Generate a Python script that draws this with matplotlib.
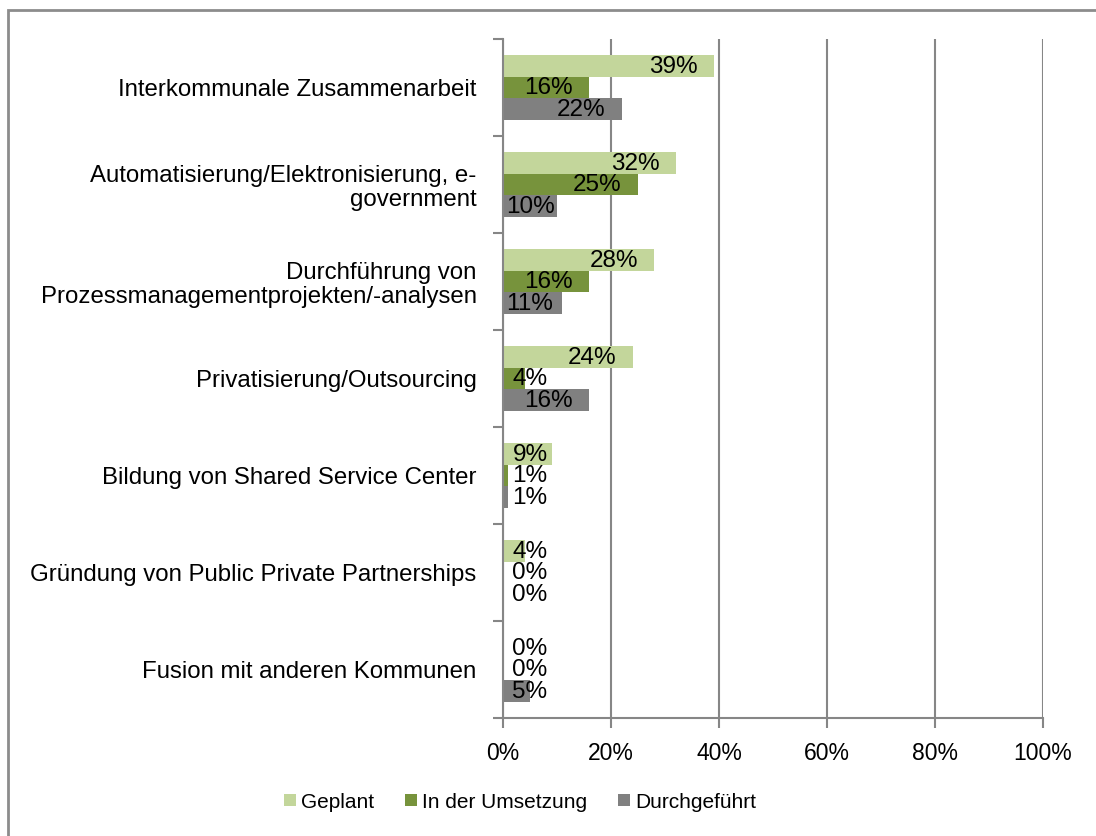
import matplotlib
matplotlib.use("Agg")
import matplotlib.pyplot as plt
import numpy as np
from matplotlib.patches import Rectangle

plt.rcParams['font.family'] = ['Liberation Sans', 'DejaVu Sans']

categories = [
    "Interkommunale Zusammenarbeit",
    "Automatisierung/Elektronisierung, e-\ngovernment",
    "Durchführung von\nProzessmanagementprojekten/-analysen",
    "Privatisierung/Outsourcing",
    "Bildung von Shared Service Center",
    "Gründung von Public Private Partnerships",
    "Fusion mit anderen Kommunen",
]
series_names = ["Geplant", "In der Umsetzung", "Durchgeführt"]
geplant = [39, 32, 28, 24, 9, 4, 0]
umsetzung = [16, 25, 16, 4, 1, 0, 0]
durchgefuehrt = [22, 10, 11, 16, 1, 0, 5]
colors = ["#C3D69B", "#77933C", "#808080"]
xticks = [0, 20, 40, 60, 80, 100]

W, H = 1096, 836
fig = plt.figure(figsize=(W / 100, H / 100), dpi=100)
ax = fig.add_axes([503 / W, 1 - 718 / H, 540 / W, 679 / H])

n = len(categories)
y = np.arange(n)
bh = 0.224
for i, (vals, col, name) in enumerate(zip([geplant, umsetzung, durchgefuehrt], colors, series_names)):
    pos = y + (i - 1) * bh
    ax.barh(pos, vals, height=bh, color=col, label=name, zorder=3)
    for p, v in zip(pos, vals):
        lx = max(v - 7.5, 5.0)
        ax.text(lx, p + 0.01, f"{v}%", ha="center", va="center", fontsize=17.5, color="black", zorder=4)

ax.set_xlim(0, 100)
ax.set_ylim(n - 0.5, -0.5)
ax.set_xticks(xticks)
ax.set_xticklabels([f"{t}%" for t in xticks], fontsize=16.5)
ax.set_yticks(y)
ax.set_yticklabels(categories, fontsize=17.3, ha="right", linespacing=1.1)
ax.set_yticks(np.arange(n + 1) - 0.5, minor=True)
ax.tick_params(axis="y", which="major", length=0, pad=19)
ax.tick_params(axis="y", which="minor", length=7, width=1.5, color="#868686", direction="out")
ax.tick_params(axis="x", which="major", length=7, width=1.5, color="#868686", pad=10)
ax.grid(axis="x", color="#868686", linewidth=1.5, zorder=0)
for s in ["top", "right"]:
    ax.spines[s].set_visible(False)
for s in ["left", "bottom"]:
    ax.spines[s].set_color("#868686")
    ax.spines[s].set_linewidth(1.5)
ax.spines["left"].set_zorder(5)

fig.legend(loc="center", bbox_to_anchor=(520 / W, 1 - 802 / H), ncol=3, frameon=False,
           fontsize=15, handlelength=0.55, handleheight=0.55, handletextpad=0.25,
           columnspacing=1.5)

fig.patches.append(Rectangle((8 / W, -0.01), 1.0, 1 - 10 / H + 0.01, transform=fig.transFigure,
                             fill=False, edgecolor="#8c8c8c", linewidth=2, zorder=0))

fig.savefig("out.png", dpi=100, facecolor="white")
